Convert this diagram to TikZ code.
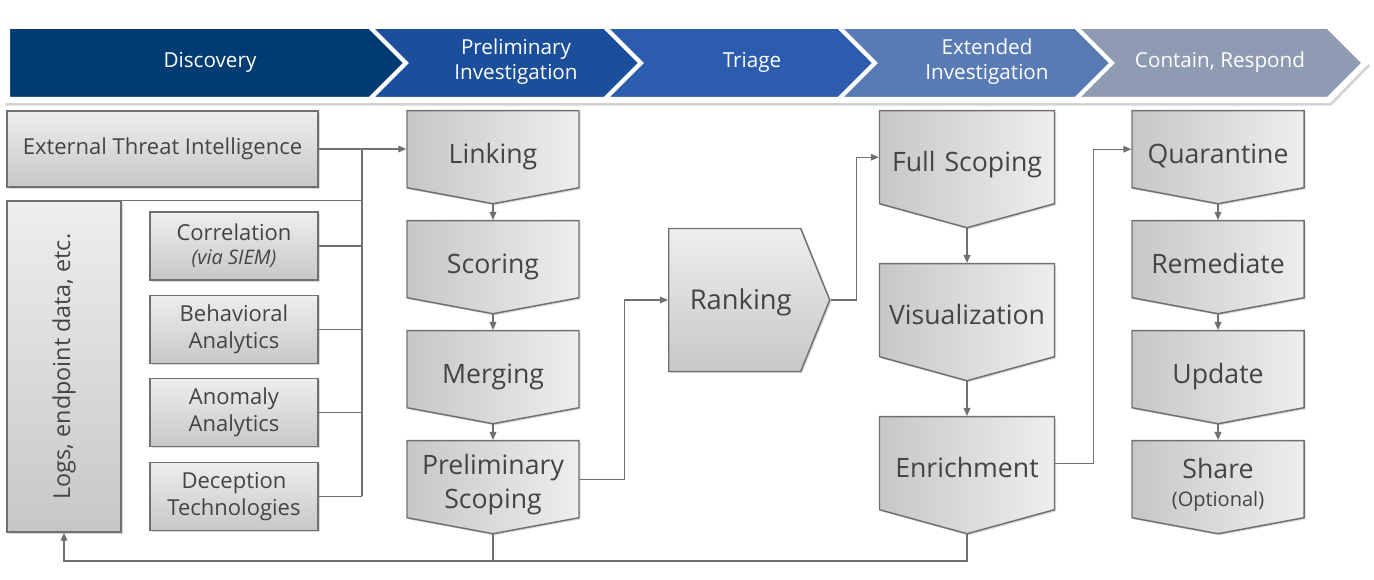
\documentclass[tikz,border=0pt]{standalone}
\usepackage{fontspec}
\setmainfont{Open Sans}
\usetikzlibrary{shapes.symbols,shadows,arrows.meta}

\definecolor{discblue}{RGB}{0,60,113}
\definecolor{prelblue}{RGB}{27,78,155}
\definecolor{triblue}{RGB}{43,92,173}
\definecolor{extblue}{RGB}{88,123,182}
\definecolor{respgray}{RGB}{143,155,179}
\definecolor{boxlight}{RGB}{238,238,239}
\definecolor{boxdark}{RGB}{198,199,201}
\definecolor{textgray}{RGB}{68,68,70}
\definecolor{linegray}{RGB}{112,112,114}

\begin{document}
\begin{tikzpicture}[x=0.75pt,
            y=-0.75pt,
            >={Triangle[length=6pt,width=5pt]},
            phase/.style={text=white, align=center,
                font=\fontsize{15.5}{18.75}\selectfont},
            source/.style={draw=linegray, line width=1.1pt, top color=boxlight,
                bottom color=boxdark, text=textgray, align=center,
                font=\fontsize{16.5}{20}\selectfont, inner sep=0pt,
                drop shadow={opacity=0.3, shadow xshift=1.2pt, shadow yshift=-1.2pt}},
            stepbox/.style={signal, signal to=south, draw=linegray, line width=1.1pt,
                left color=boxdark, right color=boxlight, text=textgray, align=center,
                font=\fontsize{20}{25.5}\selectfont, inner sep=0pt, anchor=north,
                text width=129pt, minimum height=69.75pt, signal pointer angle=158.9,
                text height=26.5pt, text depth=5pt,
                drop shadow={opacity=0.3, shadow xshift=1.2pt, shadow yshift=-1.2pt}},
            bigstep/.style={stepbox, text width=131.25pt, minimum height=87.75pt,
                signal pointer angle=149.3},
            twoline/.style={text height=23.5pt, text depth={}},
            conn/.style={draw=linegray, line width=1pt}]

        \useasboundingbox (0,0) rectangle (1374,580);

        % phase banner
        \fill[white, drop shadow={opacity=0.35, shadow xshift=1pt, shadow yshift=-2pt}]
            (4,23) -- (1330,23) -- (1369,63) -- (1330,103) -- (4,103) -- cycle;
        \foreach \xl/\xr/\nd/\tx/\col/\lbl [count=\i] in
            {8/370/0/210/discblue/Discovery,
             370/605/36/516/prelblue/{Preliminary\\Investigation},
             605/839/36/752/triblue/Triage,
             839/1076/36/987/extblue/{Extended\\Investigation},
             1076/1328/36/1220/respgray/{Contain, Respond}}
        {
            \filldraw[fill=\col, draw=white, line width=3pt]
                (\xl,27) -- (\xr,27) -- (\xr+36,63) -- (\xr,99) -- (\xl,99) -- (\xl+\nd,63) -- cycle;
            \node[phase] (phase\i) at (\tx,62) {\lbl};
        }

        % discovery sources
        \node[source, minimum width=233.25pt, minimum height=57pt]  (eti)  at (162.5,149) {External Threat Intelligence};
        \node[source, minimum width=85.5pt, minimum height=248.25pt] (logs) at (64,366.5)
            {\rotatebox{90}{\fontsize{17.5}{20}\selectfont Logs, endpoint data, etc.}};
        \node[source, minimum width=126pt, minimum height=51pt] (corr) at (234,246)
            {Correlation\\[-2pt]{\fontsize{15}{17}\selectfont\itshape (via SIEM)}};
        \node[source, minimum width=126pt, minimum height=51pt] (beh)  at (234,329.5) {Behavioral\\Analytics};
        \node[source, minimum width=126pt, minimum height=51pt] (anom) at (234,412.5) {Anomaly\\Analytics};
        \node[source, minimum width=126pt, minimum height=51pt] (dec)  at (234,496.5) {Deception\\Technologies};
        \coordinate (bus) at (362,0);

        % preliminary investigation
        \node[stepbox] (link)   at (493,110) {Linking};
        \node[stepbox] (score)  at (493,220) {Scoring};
        \node[stepbox] (merge)  at (493,330) {Merging};
        \node[stepbox, twoline] (pscope) at (493,440) {Preliminary\\Scoping};

        % triage
        \node[signal, signal to=east, draw=linegray, line width=1.1pt, top color=boxlight,
              bottom color=boxdark, text=textgray, font=\fontsize{20.5}{24}\selectfont,
              minimum width=120.75pt, minimum height=107.25pt, signal pointer angle=135.8,
              text height=20pt, text depth=5pt, anchor=west,
              drop shadow={opacity=0.3, shadow xshift=1.2pt, shadow yshift=-1.2pt}]
              (rank) at (668,300) {\hspace*{9pt}Ranking};

        % extended investigation
        \node[bigstep] (fscope) at (967,110) {Full Scoping};
        \node[bigstep] (vis)    at (967,263) {Visualization};
        \node[bigstep] (enrich) at (967,416) {Enrichment};

        % contain, respond
        \node[stepbox] (quar)   at (1218,110) {Quarantine};
        \node[stepbox] (remed)  at (1218,220) {Remediate};
        \node[stepbox] (update) at (1218,330) {Update};
        \node[stepbox, twoline] (share)  at (1218,440) {Share\\[-4pt]{\fontsize{15}{17}\selectfont (Optional)}};

        \coordinate (loop) at (0,561);

        % connectors
        \draw[conn, ->] (eti.east) -- (eti.east -| link.west);
        \draw[conn] (logs.north east) -- (logs.north east -| bus);
        \foreach \src in {corr,beh,anom,dec}
            \draw[conn] (\src.east) -- (\src.east -| bus);
        \draw[conn] (eti.east -| bus) -- (dec.east -| bus);

        \draw[conn, ->] (link.south)  -- (score.north);
        \draw[conn, ->] (score.south) -- (merge.north);
        \draw[conn, ->] (merge.south) -- (pscope.north);
        \draw[conn, ->] (pscope.east) -- ++(45,0) |- (rank.west);
        \draw[conn, ->] (rank.east)   -- ++(26,0) |- (fscope.west);
        \draw[conn, ->] (fscope.south) -- (vis.north);
        \draw[conn, ->] (vis.south)    -- (enrich.north);
        \draw[conn, ->] (enrich.east) -- ++(38,0) |- (quar.west);
        \draw[conn, ->] (quar.south)   -- (remed.north);
        \draw[conn, ->] (remed.south)  -- (update.north);
        \draw[conn, ->] (update.south) -- (share.north);

        % feedback to the data sources
        \draw[conn] (pscope.south) -- (pscope.south |- loop);
        \draw[conn, ->] (enrich.south) -- (enrich.south |- loop) -| (logs.south);

    \end{tikzpicture}
\end{document}
